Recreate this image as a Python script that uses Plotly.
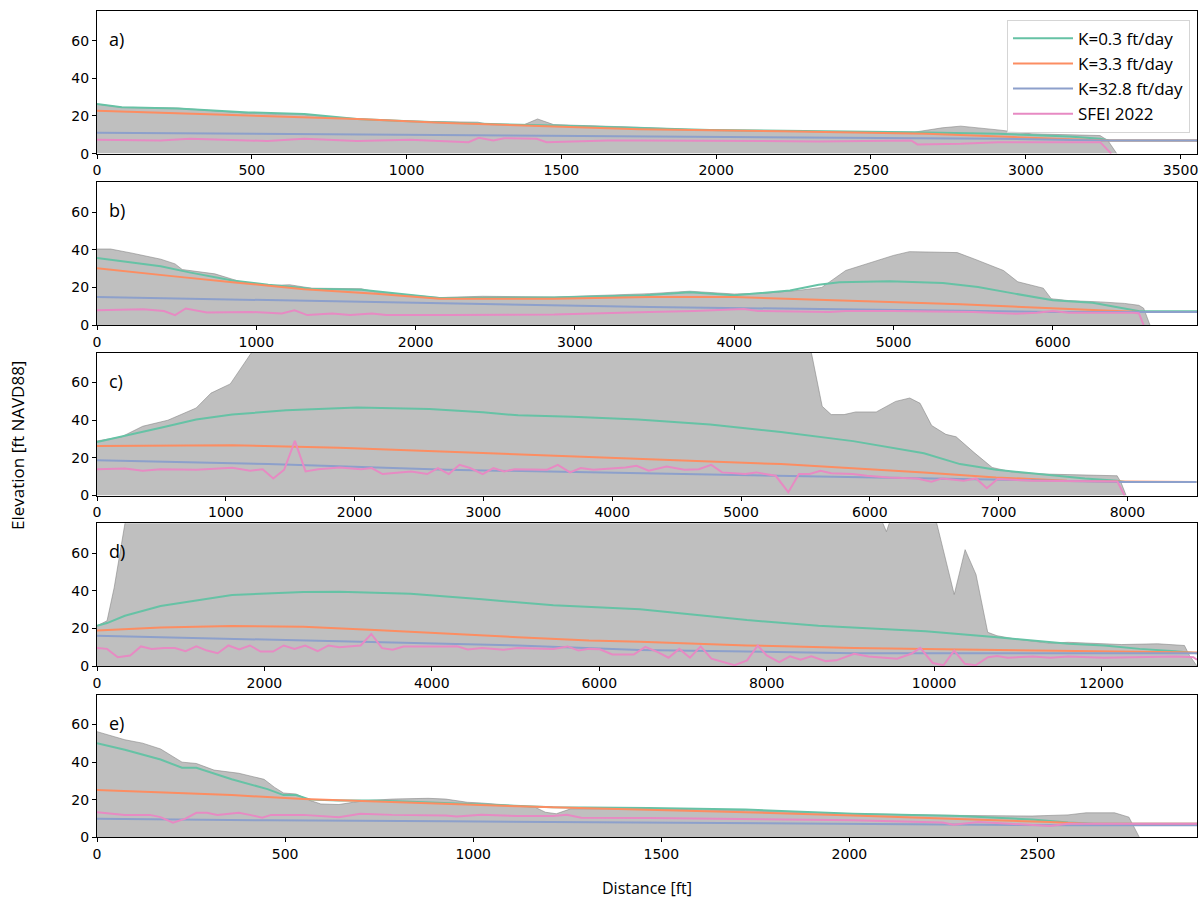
import plotly.graph_objects as go

# ---------------- data ----------------
# Panel a
a_ground_x = [0, 80, 260, 490, 670, 840, 1010, 1230, 1270, 1380, 1423, 1475, 1750, 1980, 2300, 2640, 2730, 2790, 2910, 3020, 3240, 3265, 3294]
a_ground_y = [26.3, 24.6, 24.2, 21.4, 20.7, 18.4, 17.2, 16.7, 15.4, 15.4, 18.4, 15.4, 14, 12.3, 11.8, 11.4, 13.7, 14.6, 12.6, 10.5, 9.6, 7, 0]
a_k03_x = [0, 80, 260, 490, 670, 840, 1010, 1240, 1475, 1750, 1980, 2630, 2910, 3140, 3240, 3270, 3553]
a_k03_y = [26.3, 24.6, 23.9, 21.9, 21.0, 18.4, 17.2, 15.8, 14.9, 13.7, 12.6, 11.4, 10.5, 9.1, 7.9, 7.0, 7.0]
a_k33_x = [0, 260, 490, 840, 1130, 1475, 1750, 2210, 2680, 2960, 3250, 3553]
a_k33_y = [22.8, 21.4, 20.0, 18.4, 16.3, 14.4, 13.0, 11.9, 10.5, 8.8, 7.0, 7.0]
a_k328_x = [0, 900, 1750, 2450, 2910, 3250, 3553]
a_k328_y = [11.1, 10.2, 9.1, 8.4, 7.9, 7.0, 7.0]
a_sfei_x = [0, 205, 300, 550, 670, 840, 1010, 1200, 1233, 1280, 1315, 1420, 1452, 1530, 1650, 1750, 2100, 2330, 2630, 2650, 2790, 2910, 3240, 3265, 3276]
a_sfei_y = [7.4, 7.0, 7.9, 6.7, 7.9, 6.7, 7.4, 6.1, 8.4, 7.0, 8.2, 7.9, 6.1, 6.5, 7.0, 7.0, 6.7, 6.5, 7.0, 4.9, 5.3, 6.1, 6.1, 1.8, 0]

# Panel b
b_ground_x = [0, 85, 220, 400, 490, 535, 740, 895, 1075, 1210, 1345, 1660, 1750, 1975, 2150, 2420, 2870, 3470, 3720, 4000, 4200, 4400, 4550, 4700, 4850, 5000, 5100, 5300, 5400, 5510, 5690, 5780, 5940, 5990, 6100, 6300, 6450, 6540, 6570, 6610]
b_ground_y = [40.4, 40.4, 38.2, 35.0, 32.5, 29.5, 27.2, 23.2, 21.0, 21.4, 19.6, 19.3, 17.5, 15.8, 14.6, 15.3, 14.9, 16.7, 18.0, 16.5, 17.0, 18.4, 20.0, 29.0, 33.0, 37.0, 39.0, 38.5, 38.5, 35.0, 29.0, 23.0, 19.6, 14.0, 13.0, 12.3, 11.5, 10.5, 9.0, 0]
b_k03_x = [0, 220, 400, 580, 850, 1075, 1345, 1660, 1975, 2150, 2870, 3440, 3720, 4000, 4350, 4530, 4660, 4975, 5310, 5530, 5760, 6000, 6250, 6390, 6545, 6905]
b_k03_y = [35.6, 33.0, 31.2, 28.0, 23.7, 21.4, 19.3, 18.8, 15.8, 14.4, 14.6, 15.8, 17.5, 15.8, 18.4, 21.4, 22.8, 23.3, 22.3, 20.2, 16.7, 13.2, 11.9, 9.6, 7.4, 7.4]
b_k33_x = [0, 220, 470, 850, 1300, 1750, 2150, 2870, 3470, 4000, 4530, 4975, 5420, 6000, 6320, 6550, 6905]
b_k33_y = [30.2, 28.4, 26.0, 22.8, 19.0, 16.7, 14.0, 14.0, 14.9, 14.9, 13.7, 12.3, 11.0, 9.1, 7.9, 7.0, 7.0]
b_k328_x = [0, 1075, 2200, 3470, 6000, 6905]
b_k328_y = [14.9, 13.2, 11.4, 9.6, 7.0, 7.0]
b_sfei_x = [0, 290, 420, 490, 557, 690, 960, 1160, 1240, 1320, 1476, 1590, 1725, 1815, 2200, 2870, 3470, 3750, 4060, 4150, 4600, 4700, 5000, 5500, 5770, 5900, 6000, 6100, 6500, 6540, 6570]
b_sfei_y = [7.9, 8.4, 7.5, 5.3, 8.8, 6.7, 7.0, 6.1, 7.9, 5.3, 6.1, 5.3, 6.1, 5.3, 5.3, 5.6, 7.0, 7.5, 8.5, 7.5, 7.0, 7.5, 7.5, 7.0, 6.0, 6.5, 7.5, 6.5, 6.5, 6.3, 0]

# Panel c
c_ground_x = [0, 190, 355, 550, 770, 885, 1035, 1105, 1200, 1400, 2000, 3000, 4000, 5000, 5530, 5550, 5630, 5700, 5800, 5890, 6050, 6200, 6310, 6390, 6480, 6590, 6670, 6810, 6950, 7120, 7370, 7920, 7950, 7990]
c_ground_y = [29.0, 31.2, 36.8, 40.0, 46.5, 54.4, 59.3, 66.7, 76, 85, 95, 100, 100, 95, 80, 74.6, 47.4, 43.0, 43.0, 44.4, 44.4, 50.0, 51.8, 49.0, 37.2, 32.5, 31.2, 22.8, 14.9, 12.3, 11.4, 10.5, 7.0, 0]
c_k03_x = [0, 190, 495, 770, 1050, 1470, 2020, 2580, 2995, 3270, 3690, 4200, 4760, 5310, 5870, 6420, 6700, 6980, 7260, 7670, 7920, 7980, 8535]
c_k03_y = [28.4, 31.2, 36.0, 40.4, 43.0, 45.3, 46.8, 46.0, 44.2, 42.6, 41.8, 40.4, 37.7, 33.7, 28.9, 22.5, 16.7, 13.7, 11.9, 9.1, 7.9, 7.2, 7.2]
c_k33_x = [0, 1050, 1880, 2720, 3550, 4200, 5310, 6420, 6980, 7530, 7920, 8535]
c_k33_y = [26.3, 26.7, 25.4, 23.2, 21.0, 19.3, 16.7, 12.3, 9.6, 7.9, 7.4, 7.2]
c_k328_x = [0, 1330, 2720, 4200, 5590, 6980, 7950, 8535]
c_k328_y = [18.8, 16.7, 13.7, 11.8, 10.2, 8.4, 7.2, 7.2]
c_sfei_x = [0, 217, 355, 494, 772, 1050, 1189, 1286, 1369, 1453, 1536, 1619, 1717, 1883, 2050, 2133, 2217, 2439, 2564, 2647, 2731, 2814, 2897, 2994, 3078, 3161, 3244, 3494, 3578, 3672, 3756, 3853, 4103, 4189, 4283, 4422, 4561, 4672, 4769, 4853, 5033, 5117, 5269, 5367, 5450, 5533, 5617, 5700, 5867, 5978, 6144, 6367, 6478, 6561, 6728, 6825, 6908, 6992, 7256, 7922, 7978]
c_sfei_y = [14.0, 14.4, 13.2, 14.0, 13.7, 14.7, 13.2, 14.0, 9.1, 13.7, 29.0, 12.8, 14.0, 14.9, 14.0, 14.6, 11.4, 12.8, 11.4, 14.6, 11.4, 16.3, 14.6, 11.4, 14.6, 12.8, 14.0, 13.7, 16.3, 12.3, 14.6, 13.7, 14.9, 15.8, 13.2, 15.4, 13.7, 14.0, 16.3, 12.3, 11.4, 12.3, 10.5, 1.8, 11.4, 11.4, 13.2, 11.8, 11.4, 10.5, 9.6, 9.1, 7.4, 9.1, 7.9, 9.1, 3.9, 8.8, 7.9, 7.4, 0]

# Panel d
d_ground_x = [0, 120, 205, 270, 333, 500, 2000, 5000, 8000, 9300, 9430, 9480, 9560, 10030, 10240, 10370, 10500, 10640, 10750, 10960, 11390, 11600, 11950, 12240, 12670, 12990, 13050, 13140]
d_ground_y = [21.4, 24.0, 41.6, 59.0, 75.5, 95, 110, 110, 100, 85, 71.4, 78, 80, 76, 38.0, 61.8, 48.6, 17.9, 16.1, 14.4, 12.1, 12.6, 11.8, 11.4, 11.8, 10.9, 5.6, 0]
d_k03_x = [0, 120, 333, 760, 1613, 2466, 2893, 3746, 4599, 5452, 6486, 7765, 8618, 9898, 10751, 11177, 11603, 12030, 12456, 12883, 13096, 13140]
d_k03_y = [21.4, 22.8, 26.7, 31.9, 37.7, 39.3, 39.5, 38.4, 35.4, 32.3, 30.2, 24.4, 21.4, 18.4, 15.3, 13.5, 11.8, 10.9, 9.1, 7.9, 6.8, 6.8]
d_k33_x = [0, 760, 1613, 2466, 3319, 4172, 5025, 5878, 6486, 7765, 9045, 10324, 11603, 12883, 13140]
d_k33_y = [18.8, 20.5, 21.2, 20.9, 19.1, 17.0, 15.3, 13.5, 12.9, 10.9, 9.6, 8.8, 8.2, 7.4, 7.2]
d_k328_x = [0, 1613, 3319, 5025, 6486, 9045, 13140]
d_k328_y = [16.1, 14.4, 12.6, 10.9, 8.5, 6.8, 6.8]
d_sfei_x = [0, 120, 248, 397, 525, 653, 802, 930, 1058, 1186,
            1314, 1442, 1570, 1698, 1826, 1954, 2103, 2231, 2359, 2487,
            2637, 2765, 2893, 3149, 3277, 3405, 3533, 3661, 4172, 4300,
            4428, 4599, 4855, 5025, 5452, 5623, 5751, 5878, 6006, 6155,
            6411, 6550, 6699, 6827, 6955, 7083, 7211, 7339, 7616, 7765,
            7893, 8000, 8149, 8277, 8405, 8533, 8704, 8832, 9045, 9215,
            9557, 9727, 9834, 9983, 10111, 10239, 10367, 10495, 10644, 10751,
            10879, 11007, 11177, 11390, 11603, 12030, 12456, 12883, 13096, 13140]
d_sfei_y = [9.6, 9.1, 4.7, 5.6, 10.4, 9.1, 9.6, 9.6, 7.9, 10.4,
            8.2, 6.8, 10.9, 8.8, 10.9, 7.7, 7.7, 10.9, 9.1, 10.9,
            7.9, 10.9, 10.0, 10.9, 17.0, 9.5, 8.6, 10.4, 10.4, 10.5,
            8.8, 9.6, 8.6, 9.6, 9.1, 10.4, 8.2, 9.1, 8.9, 6.1,
            6.1, 10.2, 7.4, 4.4, 9.1, 4.4, 10.4, 3.9, 0.4, 3.0,
            10.9, 5.6, 2.1, 5.1, 3.3, 5.1, 2.6, 3.0, 6.5, 5.1,
            3.9, 6.5, 9.6, 1.6, 0.4, 8.2, 1.2, 0.4, 4.7, 5.3,
            4.4, 4.7, 5.1, 4.4, 5.1, 4.4, 4.7, 5.1, 4.7, 3.3]

# Panel e
e_ground_x = [0, 27, 74, 121, 169, 226, 264, 311, 377, 425, 444, 472, 496, 529, 567, 595, 643, 681, 719, 785, 880, 927, 984, 1022, 1117, 1164, 1192, 1221, 1259, 1306, 1465, 1724, 2010, 2295, 2486, 2581, 2629, 2705, 2743, 2771]
e_ground_y = [56.2, 54.5, 51.9, 50.1, 47.0, 40.0, 39.3, 35.8, 34.1, 31.8, 30.9, 26.6, 23.6, 23.1, 19.6, 17.8, 17.5, 18.7, 19.6, 20.4, 20.8, 20.4, 18.7, 18.3, 16.9, 16.1, 13.4, 12.6, 15.2, 15.2, 15.2, 14.3, 12.6, 11.7, 11.4, 12.0, 13.1, 13.1, 10.8, 0]
e_k03_x = [0, 74, 169, 226, 264, 358, 453, 496, 529, 567, 643, 738, 833, 927, 1022, 1117, 1211, 1465, 1724, 2010, 2295, 2486, 2581, 2650, 2924]
e_k03_y = [50.1, 46.6, 41.4, 37.0, 37.0, 30.9, 25.7, 22.5, 22.5, 20.1, 19.6, 19.6, 19.0, 18.3, 17.3, 16.6, 16.1, 15.6, 14.8, 12.6, 11.4, 9.6, 7.9, 7.3, 7.3]
e_k33_x = [0, 169, 358, 548, 738, 927, 1117, 1306, 1465, 1724, 2010, 2295, 2533, 2629, 2924]
e_k33_y = [25.2, 23.9, 22.5, 20.4, 19.0, 17.8, 16.6, 15.5, 14.8, 13.4, 11.7, 10.0, 8.2, 7.3, 7.3]
e_k328_x = [0, 453, 927, 1465, 2010, 2581, 2924]
e_k328_y = [10.0, 9.1, 8.6, 7.9, 7.3, 6.5, 6.5]
e_sfei_x = [0, 36, 74, 140, 169, 202, 235, 264, 292, 320, 377, 406, 439, 463, 548, 643, 700, 785, 927, 956, 1022, 1117, 1211, 1249, 1287, 1465, 1724, 2010, 2248, 2276, 2343, 2533, 2581, 2924]
e_sfei_y = [13.4, 12.6, 12.0, 12.0, 10.8, 7.9, 10.0, 13.1, 13.1, 12.0, 13.1, 12.0, 10.5, 12.0, 12.0, 10.8, 12.6, 12.0, 11.7, 11.2, 12.0, 11.4, 11.4, 12.0, 10.5, 10.3, 9.6, 9.1, 7.9, 6.8, 8.2, 6.1, 7.3, 7.3]

panel_labels = ["a)", "b)", "c)", "d)", "e)"]
x_max = [3553, 6905, 8540, 13140, 2924]
x_dtick = [500, 1000, 1000, 2000, 500]
y_ticks = [0, 20, 40, 60]
series_names = ["K=0.3 ft/day", "K=3.3 ft/day", "K=32.8 ft/day", "SFEI 2022"]
series_colors = ["#66c2a5", "#fc8d62", "#8da0cb", "#e78ac3"]

panels = [
    (a_ground_x, a_ground_y, [(a_k03_x, a_k03_y), (a_k33_x, a_k33_y), (a_k328_x, a_k328_y), (a_sfei_x, a_sfei_y)]),
    (b_ground_x, b_ground_y, [(b_k03_x, b_k03_y), (b_k33_x, b_k33_y), (b_k328_x, b_k328_y), (b_sfei_x, b_sfei_y)]),
    (c_ground_x, c_ground_y, [(c_k03_x, c_k03_y), (c_k33_x, c_k33_y), (c_k328_x, c_k328_y), (c_sfei_x, c_sfei_y)]),
    (d_ground_x, d_ground_y, [(d_k03_x, d_k03_y), (d_k33_x, d_k33_y), (d_k328_x, d_k328_y), (d_sfei_x, d_sfei_y)]),
    (e_ground_x, e_ground_y, [(e_k03_x, e_k03_y), (e_k33_x, e_k33_y), (e_k328_x, e_k328_y), (e_sfei_x, e_sfei_y)]),
]

# ---------------- layout geometry (pixels) ----------------
W, H = 1202, 898
L, R = 97, 1197
panel_px = [(11, 155), (184, 328), (356, 500), (528, 672), (701, 845)]

FONT = "Open Sans"
TICKFONT = "DejaVu Sans"

fig = go.Figure()
layout = dict(
    width=W, height=H,
    margin=dict(l=L, r=W - R, t=0, b=0),
    plot_bgcolor="white", paper_bgcolor="white",
    font=dict(family=FONT, size=15, color="black"),
    showlegend=True,
    legend=dict(
        x=(1190 - L) / (R - L), y=(H - 20) / H, xanchor="right", yanchor="top",
        bgcolor="rgba(255,255,255,0.85)", bordercolor="#d5d5d5", borderwidth=1,
        font=dict(family=FONT, size=17), tracegroupgap=0, itemwidth=60,
    ),
)
annotations = []

for i, (gx, gy, lines) in enumerate(panels):
    n = i + 1
    xa = "x" if n == 1 else f"x{n}"
    ya = "y" if n == 1 else f"y{n}"
    top, bot = panel_px[i]
    fig.add_trace(go.Scatter(
        x=gx, y=gy, xaxis=xa, yaxis=ya, mode="lines", fill="tozeroy",
        fillcolor="rgba(128,128,128,0.5)",
        line=dict(color="rgba(128,128,128,0.55)", width=1),
        showlegend=False, hoverinfo="skip"))
    for j, (lx, ly) in enumerate(lines):
        fig.add_trace(go.Scatter(
            x=lx, y=ly, xaxis=xa, yaxis=ya, mode="lines",
            line=dict(color=series_colors[j], width=2),
            name=series_names[j], showlegend=(i == 0), legendgroup=series_names[j]))
    axkey_x = "xaxis" if n == 1 else f"xaxis{n}"
    axkey_y = "yaxis" if n == 1 else f"yaxis{n}"
    layout[axkey_x] = dict(
        domain=[0, 1], anchor=ya, range=[0, x_max[i]],
        tick0=0, dtick=x_dtick[i], tickformat="d",
        ticks="outside", ticklen=4, tickcolor="black",
        showline=True, linecolor="black", linewidth=1, mirror=True,
        showgrid=False, zeroline=False,
        tickfont=dict(family=TICKFONT, size=14, color="black"))
    layout[axkey_y] = dict(
        domain=[(H - bot) / H, (H - top) / H], anchor=xa, range=[0, 75.8],
        tickvals=y_ticks, ticks="outside", ticklen=4, tickcolor="black",
        showline=True, linecolor="black", linewidth=1, mirror=True,
        showgrid=False, zeroline=False,
        tickfont=dict(family=TICKFONT, size=14, color="black"))
    annotations.append(dict(
        text=panel_labels[i], xref=f"{xa} domain", yref=f"{ya} domain",
        x=0.009, y=1 - 28 / (bot - top), xanchor="left", yanchor="middle",
        showarrow=False, font=dict(family=FONT, size=18, color="black")))

annotations.append(dict(
    text="Elevation [ft NAVD88]", xref="paper", yref="paper",
    x=(18 - L) / (R - L), y=(H - 450) / H, textangle=-90,
    xanchor="center", yanchor="middle", showarrow=False,
    font=dict(family=FONT, size=17, color="black")))
annotations.append(dict(
    text="Distance [ft]", xref="paper", yref="paper",
    x=(647 - L) / (R - L), y=(H - 896) / H,
    xanchor="center", yanchor="middle", showarrow=False,
    font=dict(family=FONT, size=16, color="black")))

layout["annotations"] = annotations
fig.update_layout(**layout)
fig.write_html("out.html")
